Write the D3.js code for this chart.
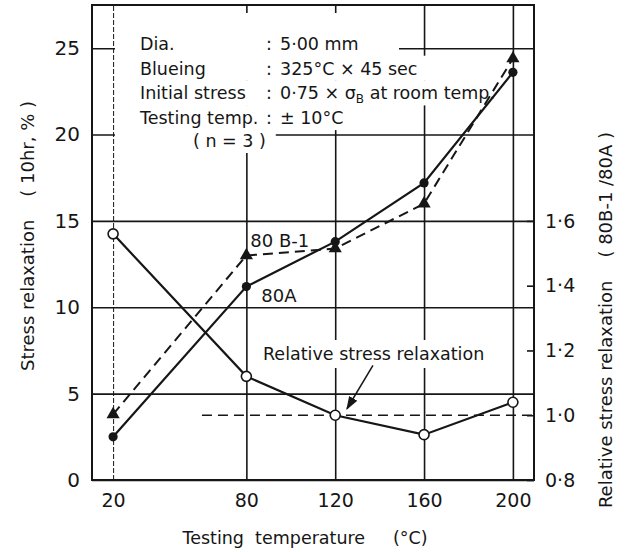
<!DOCTYPE html>
<html>
<head>
<meta charset="utf-8">
<script src="https://cdn.jsdelivr.net/npm/d3@7"></script>
<style>
  body { margin: 0; background: #fff; }
  svg text { font-family: "DejaVu Sans", sans-serif; fill: #161616; }
</style>
</head>
<body>
<div id="chart-area"></div>
<script>
// data
const temps = [20, 80, 120, 160, 200]
const relax80A = [2.5, 11.2, 13.8, 17.2, 23.6]
const relax80B1 = [3.8, 13.0, 13.4, 16.0, 24.4]
const relRatio = [1.56, 1.12, 1.0, 0.94, 1.04]
const yTicks = [0, 5, 10, 15, 20, 25]
const yRightTicks = [0.8, 1.0, 1.2, 1.4, 1.6]
const yRightLabels = ["0·8", "1·0", "1·2", "1·4", "1·6"]
const noteLabels = ["Dia.", "Blueing", "Initial stress", "Testing temp."]
const noteValues = ["5·00 mm", "325°C × 45 sec", "0·75 × σ|B| at room temp.", "± 10°C"]

const FRAME = { LEFT: 92, RIGHT: 534, TOP: 5, BOTTOM: 480 }
const INK = "#161616"

const svg = d3.select("#chart-area").append("svg")
  .attr("width", 628)
  .attr("height", 552)

const x = d3.scaleLinear().domain([10.5, 209.5]).range([FRAME.LEFT, FRAME.RIGHT])
const y = d3.scaleLinear().domain([0, 27.5]).range([FRAME.BOTTOM, FRAME.TOP])
// right axis: 0.8 sits on 0, 1.6 sits on 15
const yR = d3.scaleLinear().domain([0.8, 0.8 + 27.5 / 18.75]).range([FRAME.BOTTOM, FRAME.TOP])

// Y grid + labels
const yAxisCall = d3.axisLeft(y).tickValues(yTicks)
  .tickSize(-(FRAME.RIGHT - FRAME.LEFT)).tickPadding(12)
svg.append("g")
  .attr("class", "y axis")
  .attr("transform", `translate(${FRAME.LEFT}, 0)`)
  .call(yAxisCall)
  .call(g => g.select(".domain").remove())
  .call(g => g.selectAll("line").attr("stroke", INK).attr("stroke-width", 1.6))
  .call(g => g.selectAll("text").attr("font-size", 20).attr("fill", INK)
    .attr("font-family", "DejaVu Sans, sans-serif"))

// X grid + labels
const xAxisCall = d3.axisBottom(x).tickValues(temps)
  .tickSize(-(FRAME.BOTTOM - FRAME.TOP)).tickPadding(14)
svg.append("g")
  .attr("class", "x axis")
  .attr("transform", `translate(0, ${FRAME.BOTTOM})`)
  .call(xAxisCall)
  .call(g => g.select(".domain").remove())
  .call(g => g.selectAll("line").attr("stroke", INK).attr("stroke-width", 1.6))
  .call(g => g.selectAll(".tick").filter(d => d === 20).select("line")
    .attr("stroke-width", 1).attr("stroke-dasharray", "5,2"))
  .call(g => g.selectAll("text").attr("font-size", 19).attr("fill", INK)
    .attr("font-family", "DejaVu Sans, sans-serif"))

// Right axis
const yRAxisCall = d3.axisRight(yR).tickValues(yRightTicks)
  .tickFormat((d, i) => yRightLabels[i]).tickSize(-7).tickPadding(11)
svg.append("g")
  .attr("class", "y2 axis")
  .attr("transform", `translate(${FRAME.RIGHT}, 0)`)
  .call(yRAxisCall)
  .call(g => g.select(".domain").remove())
  .call(g => g.selectAll("line").attr("stroke", INK).attr("stroke-width", 1.6))
  .call(g => g.selectAll("text").attr("font-size", 19).attr("fill", INK)
    .attr("font-family", "DejaVu Sans, sans-serif"))

// Note block (white backing hides the grid behind it)
const notes = svg.append("g")
const noteRows = noteLabels.map((lab, i) => {
  const base = 50 + i * 24.7
  const t = notes.append("text").attr("font-size", 17.5)
  t.append("tspan").attr("x", 140).attr("y", base).text(lab)
  t.append("tspan").attr("x", 266).attr("y", base).text(":")
  const parts = noteValues[i].split("|")
  t.append("tspan").attr("x", 280).attr("y", base).text(parts[0])
  if (parts.length > 1) {
    t.append("tspan").attr("font-size", 12).attr("dy", 4).text(parts[1])
    t.append("tspan").attr("dy", -4).text(parts[2])
  }
  return { t, base }
})
const nRow = notes.append("text").attr("font-size", 17.5)
  .attr("x", 193).attr("y", 147).style("white-space", "pre")
  .text("( n = 3 )")

noteRows.forEach((r, i) => {
  const bb = r.t.node().getBBox()
  const right = i < 3 ? Math.max(bb.x + bb.width + 12, 399) : bb.x + bb.width + 10
  const top = i === 0 ? 13 : r.base - 19
  notes.insert("rect", ":first-child")
    .attr("x", 115).attr("y", top)
    .attr("width", right - 115).attr("height", r.base + 6 - top)
    .attr("fill", "#fff")
})
{
  const bb = nRow.node().getBBox()
  notes.insert("rect", ":first-child")
    .attr("x", 115).attr("y", 128)
    .attr("width", bb.x + bb.width + 10 - 115).attr("height", 25)
    .attr("fill", "#fff")
}

// "Relative stress relaxation" label with backing
const relG = svg.append("g")
const relLabel = relG.append("text")
  .attr("x", 263).attr("y", 360)
  .attr("font-size", 17.5)
  .text("Relative stress relaxation")
{
  const bb = relLabel.node().getBBox()
  relG.insert("rect", ":first-child")
    .attr("x", bb.x - 5).attr("y", bb.y - 4)
    .attr("width", bb.width + 10).attr("height", bb.height + 8)
    .attr("fill", "#fff")
}

// frame
svg.append("rect")
  .attr("x", FRAME.LEFT).attr("y", FRAME.TOP)
  .attr("width", FRAME.RIGHT - FRAME.LEFT).attr("height", FRAME.BOTTOM - FRAME.TOP)
  .attr("fill", "none").attr("stroke", INK).attr("stroke-width", 2)

// reference dashed line at ratio 1.0
svg.append("line")
  .attr("x1", x(60)).attr("x2", FRAME.RIGHT)
  .attr("y1", yR(1.0)).attr("y2", yR(1.0))
  .attr("stroke", INK).attr("stroke-width", 1.6).attr("stroke-dasharray", "10,6")

const lineA = d3.line().x((d, i) => x(temps[i])).y(d => y(d))
const lineR = d3.line().x((d, i) => x(temps[i])).y(d => yR(d))

svg.append("path").datum(relax80A)
  .attr("d", lineA).attr("fill", "none").attr("stroke", INK).attr("stroke-width", 2.2)
svg.append("path").datum(relax80B1)
  .attr("d", lineA).attr("fill", "none").attr("stroke", INK).attr("stroke-width", 2)
  .attr("stroke-dasharray", "10,6")
svg.append("path").datum(relRatio)
  .attr("d", lineR).attr("fill", "none").attr("stroke", INK).attr("stroke-width", 2.2)

// markers
svg.selectAll(".dotA").data(relax80A).enter().append("circle")
  .attr("cx", (d, i) => x(temps[i])).attr("cy", d => y(d))
  .attr("r", 4.6).attr("fill", INK)
svg.selectAll(".triB").data(relax80B1).enter().append("path")
  .attr("d", d3.symbol().type(d3.symbolTriangle).size(75))
  .attr("transform", (d, i) => `translate(${x(temps[i])}, ${y(d)})`)
  .attr("fill", INK)
svg.selectAll(".dotR").data(relRatio).enter().append("circle")
  .attr("cx", (d, i) => x(temps[i])).attr("cy", d => yR(d))
  .attr("r", 5).attr("fill", "#fff").attr("stroke", INK).attr("stroke-width", 1.6)

// series labels
svg.append("text").attr("x", x(80) + 4).attr("y", 247).attr("font-size", 18).text("80 B-1")
svg.append("text").attr("x", x(80) + 15).attr("y", 302).attr("font-size", 18).text("80A")

// arrow to the ratio curve
svg.append("defs").append("marker")
  .attr("id", "arrow").attr("viewBox", "0 0 10 10")
  .attr("refX", 9).attr("refY", 5)
  .attr("markerWidth", 9).attr("markerHeight", 9)
  .attr("orient", "auto")
  .append("path").attr("d", "M0,1.5 L10,5 L0,8.5 Z").attr("fill", INK)
svg.append("line")
  .attr("x1", x(137)).attr("y1", yR(1.154))
  .attr("x2", x(125.3)).attr("y2", yR(1.02))
  .attr("stroke", INK).attr("stroke-width", 1.5)
  .attr("marker-end", "url(#arrow)")

// axis titles
svg.append("text")
  .attr("x", 305).attr("y", 544)
  .attr("text-anchor", "middle").attr("font-size", 17.5)
  .style("white-space", "pre")
  .text("Testing  temperature     (°C)")

svg.append("text")
  .attr("transform", "translate(34, 236) rotate(-90)")
  .attr("text-anchor", "middle").attr("font-size", 18)
  .style("white-space", "pre")
  .text("Stress relaxation    ( 10hr, % )")

svg.append("text")
  .attr("transform", "translate(612, 320) rotate(-90)")
  .attr("text-anchor", "middle").attr("font-size", 18)
  .style("white-space", "pre")
  .text("Relative stress relaxation    ( 80B-1 /80A )")
</script>
</body>
</html>
